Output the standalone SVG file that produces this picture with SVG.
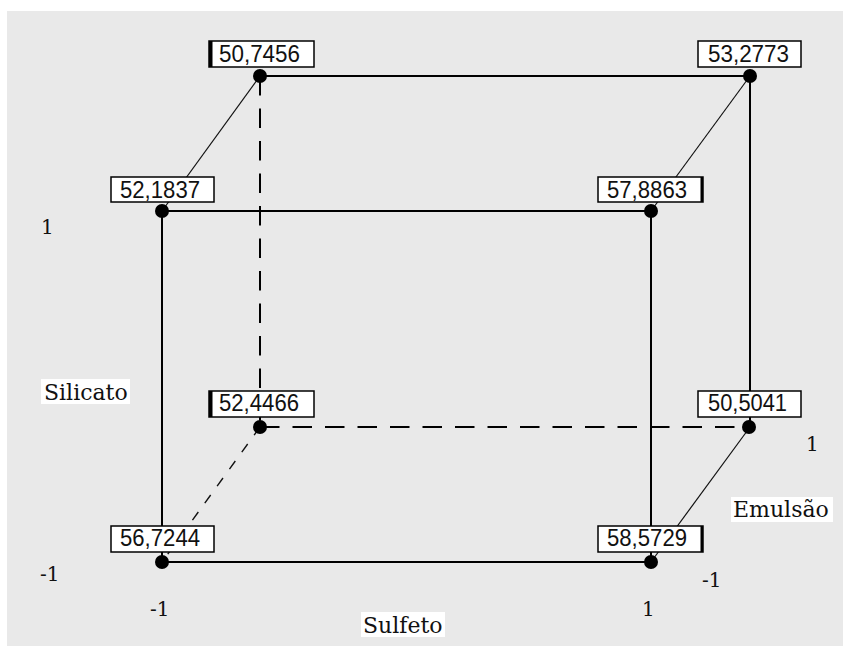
<svg xmlns="http://www.w3.org/2000/svg" width="843" height="648" viewBox="0 0 843 648">
  <style>
    .edge { stroke: #000; stroke-width: 2; fill: none; }
    .hidden { stroke: #000; stroke-width: 2; fill: none; stroke-dasharray: 19.5 13; }
    .diag { stroke: #111; stroke-width: 1.2; fill: none; }
    .diag-hidden { stroke: #111; stroke-width: 1.4; fill: none; stroke-dasharray: 10 11; }
    .dot { fill: #000; }
    .box { fill: #fff; stroke: #000; stroke-width: 1.5; }
    .val { font-family: "Liberation Sans", Arial, sans-serif; font-size: 23px; fill: #111; }
    .axis { font-family: "DejaVu Serif", "Liberation Serif", serif; font-size: 22px; fill: #111; }
    .tick { font-family: "DejaVu Serif", "Liberation Serif", serif; font-size: 20px; fill: #111; }
    .axisbg { fill: #fff; }
  </style>

  <!-- panel -->
  <rect x="0" y="0" width="843" height="648" fill="#fff"/>
  <rect x="7" y="11" width="836" height="635" fill="#e9e9e9"/>

  <!-- cube edges -->
  <g id="connectors">
    <!-- back face -->
    <line class="edge" x1="260" y1="76" x2="750" y2="76"/>
    <line class="edge" x1="750" y1="76" x2="750" y2="427"/>
    <line class="hidden" x1="260" y1="76" x2="260" y2="427"/>
    <line class="hidden" x1="260" y1="427" x2="750" y2="427"/>
    <!-- front face -->
    <line class="edge" x1="162" y1="211" x2="651" y2="211"/>
    <line class="edge" x1="162" y1="211" x2="162" y2="562"/>
    <line class="edge" x1="651" y1="211" x2="651" y2="562"/>
    <line class="edge" x1="162" y1="562" x2="651" y2="562"/>
    <!-- depth edges -->
    <line class="diag" x1="260" y1="76" x2="162" y2="211"/>
    <line class="diag" x1="750" y1="76" x2="651" y2="211"/>
    <line class="diag" x1="750" y1="427" x2="651" y2="562"/>
    <line class="diag-hidden" x1="260" y1="427" x2="162" y2="562"/>
  </g>

  <!-- corner nodes -->
  <g id="node-back-top-left">
    <circle class="dot" cx="260" cy="76" r="7"/>
    <rect class="box" x="209" y="41" width="105" height="26"/>
    <rect x="209" y="41" width="3.5" height="26" fill="#000"/>
    <text class="val" x="219" y="62" textLength="81" lengthAdjust="spacingAndGlyphs">50,7456</text>
  </g>
  <g id="node-back-top-right">
    <circle class="dot" cx="750" cy="76" r="7"/>
    <rect class="box" x="698" y="41" width="103" height="26"/>
    <text class="val" x="708" y="62" textLength="81" lengthAdjust="spacingAndGlyphs">53,2773</text>
  </g>
  <g id="node-front-top-left">
    <circle class="dot" cx="162" cy="211" r="7"/>
    <rect class="box" x="111" y="177" width="103" height="25"/>
    <text class="val" x="120" y="198" textLength="80" lengthAdjust="spacingAndGlyphs">52,1837</text>
  </g>
  <g id="node-front-top-right">
    <circle class="dot" cx="651" cy="211" r="7"/>
    <rect class="box" x="598" y="177" width="105" height="25"/>
    <rect x="700.5" y="177" width="2.5" height="25" fill="#000"/>
    <text class="val" x="607" y="198" textLength="80" lengthAdjust="spacingAndGlyphs">57,8863</text>
  </g>
  <g id="node-back-bottom-left">
    <circle class="dot" cx="260" cy="427" r="7"/>
    <rect class="box" x="209" y="391" width="105" height="26"/>
    <rect x="209" y="391" width="3.5" height="26" fill="#000"/>
    <text class="val" x="219" y="411" textLength="80" lengthAdjust="spacingAndGlyphs">52,4466</text>
  </g>
  <g id="node-back-bottom-right">
    <circle class="dot" cx="749" cy="427" r="7"/>
    <rect class="box" x="698" y="391" width="103" height="26"/>
    <text class="val" x="708" y="411" textLength="79" lengthAdjust="spacingAndGlyphs">50,5041</text>
  </g>
  <g id="node-front-bottom-left">
    <circle class="dot" cx="162" cy="562" r="7"/>
    <rect class="box" x="111" y="526" width="103" height="26"/>
    <text class="val" x="120" y="546" textLength="80" lengthAdjust="spacingAndGlyphs">56,7244</text>
  </g>
  <g id="node-front-bottom-right">
    <circle class="dot" cx="651" cy="562" r="7"/>
    <rect class="box" x="598" y="526" width="105" height="26"/>
    <rect x="700.5" y="526" width="2.5" height="26" fill="#000"/>
    <text class="val" x="607" y="546" textLength="80" lengthAdjust="spacingAndGlyphs">58,5729</text>
  </g>

  <!-- axis names and levels -->
  <g id="axes">
    <rect class="axisbg" x="41" y="379" width="89" height="25"/>
    <text class="axis" x="44" y="400">Silicato</text>
    <rect class="axisbg" x="361" y="612" width="84" height="25"/>
    <text class="axis" x="363" y="633">Sulfeto</text>
    <rect class="axisbg" x="731" y="497" width="102" height="25"/>
    <text class="axis" x="733" y="517">Emulsão</text>

    <text class="tick" x="41" y="234">1</text>
    <text class="tick" x="40" y="581">-1</text>
    <text class="tick" x="150" y="616">-1</text>
    <text class="tick" x="642" y="616">1</text>
    <text class="tick" x="702" y="587">-1</text>
    <text class="tick" x="806" y="451">1</text>
  </g>
</svg>
